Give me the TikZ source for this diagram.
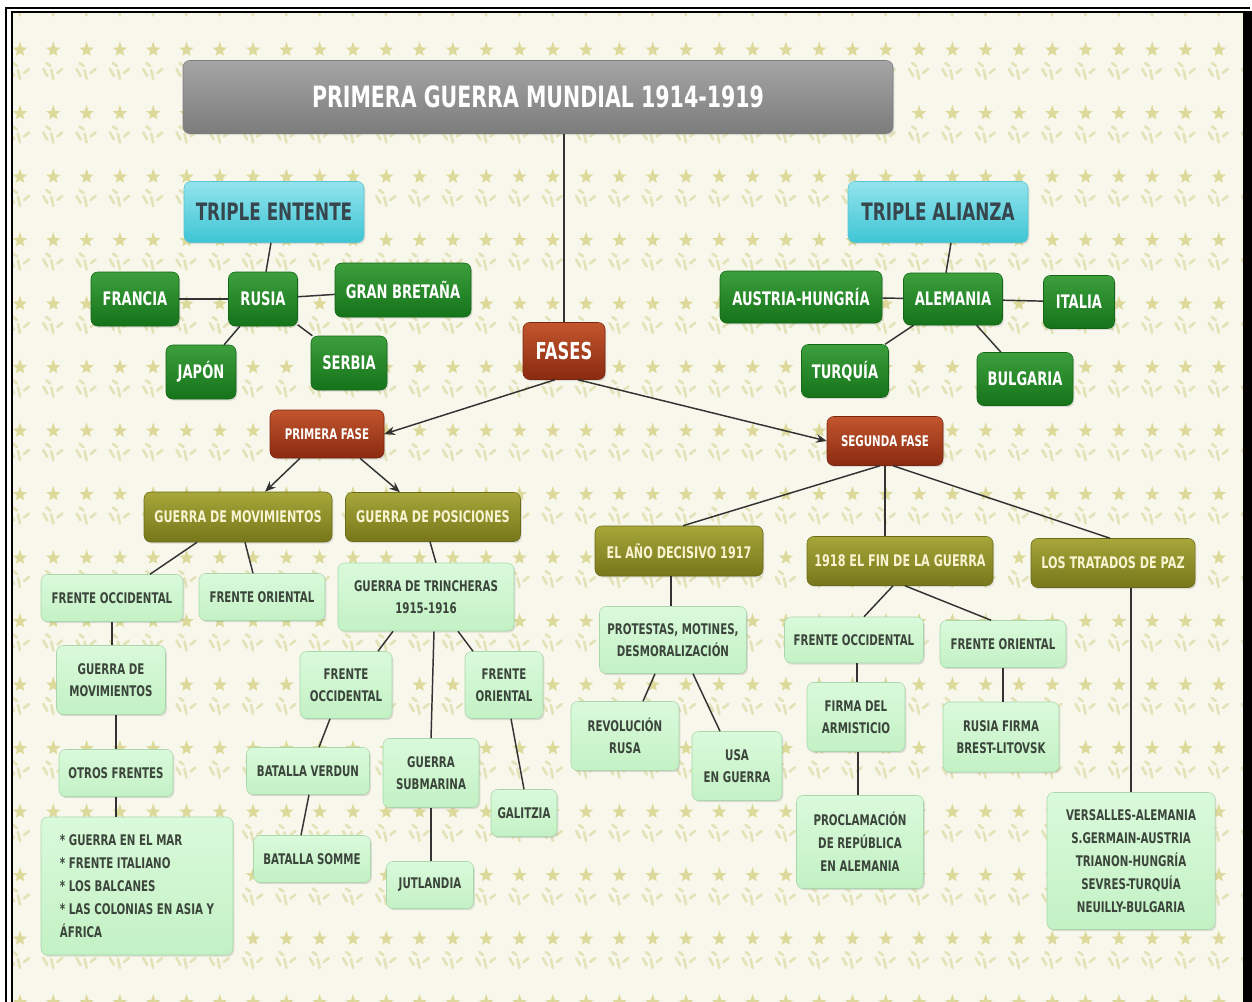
\documentclass[tikz,border=0pt]{standalone}
\usepackage{fontspec}
\newfontfamily\cmf{DejaVu Sans}[FakeStretch=0.7]
\usetikzlibrary{arrows.meta,shadows}
\definecolor{bgc}{HTML}{F8F7EC}
\definecolor{leafA}{HTML}{DCD99A}
\definecolor{leafB}{HTML}{E4E2B8}
\definecolor{lnc}{HTML}{333333}
\definecolor{grayT}{HTML}{A5A5A5}
\definecolor{grayB}{HTML}{7C7C7C}
\definecolor{cyanT}{HTML}{93E4EC}
\definecolor{cyanB}{HTML}{3EC5D5}
\definecolor{cyanD}{HTML}{5CC4D0}
\definecolor{cyanTx}{HTML}{37454D}
\definecolor{greenT}{HTML}{3C9F3C}
\definecolor{greenB}{HTML}{15731A}
\definecolor{greenD}{HTML}{126616}
\definecolor{redT}{HTML}{C2562E}
\definecolor{redB}{HTML}{8A2A10}
\definecolor{redD}{HTML}{7A2510}
\definecolor{oliveT}{HTML}{A7A73A}
\definecolor{oliveB}{HTML}{76761B}
\definecolor{oliveD}{HTML}{6A6A18}
\definecolor{oliveTx}{HTML}{F8F4D2}
\definecolor{lightT}{HTML}{DAFADB}
\definecolor{lightB}{HTML}{C3F1C4}
\definecolor{lightD}{HTML}{A9D6AA}
\definecolor{lightTx}{HTML}{3B453B}
\tikzset{
  base/.style={rectangle, rounded corners=5pt, inner sep=0pt, align=center,
    drop shadow={opacity=0.22, shadow xshift=1pt, shadow yshift=-1.3pt}},
  sz/.style 2 args={minimum width=#1, minimum height=#2},
  titlebox/.style={base, top color=grayT, bottom color=grayB, draw=grayB,
    text=white, font=\cmf\bfseries\fontsize{22}{26}\selectfont},
  cyanbox/.style={base, top color=cyanT, bottom color=cyanB, draw=cyanD,
    text=cyanTx, font=\cmf\bfseries\fontsize{18}{22}\selectfont},
  greenbox/.style={base, top color=greenT, bottom color=greenB, draw=greenD,
    text=white, font=\cmf\bfseries\fontsize{14}{17}\selectfont},
  redbox/.style={base, top color=redT, bottom color=redB, draw=redD,
    text=white, font=\cmf\bfseries\fontsize{11}{14}\selectfont},
  olivebox/.style={base, top color=oliveT, bottom color=oliveB, draw=oliveD,
    text=oliveTx, font=\cmf\bfseries\fontsize{12}{15}\selectfont},
  lightbox/.style={base, top color=lightT, bottom color=lightB, draw=lightD,
    text=lightTx, font=\cmf\bfseries\fontsize{11}{16.5}\selectfont},
  link/.style={draw=lnc, line width=1.1pt},
  arr/.style={link, -{Stealth[length=8pt,width=6.5pt]}},
}
\begin{document}
\begin{tikzpicture}[x=0.75pt,y=-0.75pt]
\useasboundingbox (0,0) rectangle (1252,1002);
\fill[white] (0,0) rectangle (1252,1002);
\fill[bgc] (13,13) rectangle (1243,1002);
% background leaf pattern
\begin{scope}
\clip (13,13) rectangle (1243,1002);
\foreach \i in {0,...,37}{
  \foreach \j in {0,...,16}{
    \pgfmathsetmacro\px{20+33.3*\i}
    \pgfmathsetmacro\py{-13.5+63.5*\j}
    \fill[leafA] (\px,\py) +(270:8.5) -- +(306:3.2) -- +(342:7.5) -- +(18:3.2) -- +(54:7) -- +(90:3.2) -- +(126:7) -- +(162:3.2) -- +(198:7.5) -- +(234:3.2) -- cycle;
    \draw[leafB, line width=2pt, line cap=round] (\px-10,\py+19) -- (\px-6,\py+26) (\px-2,\py+20) -- (\px,\py+29) (\px+4,\py+23) -- (\px+9,\py+19) (\px-7,\py+13) -- (\px-3,\py+16);
  }
}
\end{scope}
% frame
\draw[black, line width=2pt] (6,1002) -- (6,8) -- (1250,8);
\draw[black, line width=1.3pt] (12,1002) -- (12,12) -- (1245,12);
\fill[black] (1243,11) rectangle (1252,1002);

% nodes
\node[titlebox, sz={532.5pt}{54.75pt}] (title) at (538,97) {PRIMERA GUERRA MUNDIAL 1914-1919};
\node[cyanbox, sz={135pt}{45.75pt}] (tent) at (274,212) {TRIPLE ENTENTE};
\node[cyanbox, sz={135pt}{45.75pt}] (tali) at (938,212) {TRIPLE ALIANZA};

\node[greenbox, sz={66pt}{40.5pt}] (francia) at (135,299) {FRANCIA};
\node[greenbox, sz={51.75pt}{40.5pt}] (rusia) at (263,299) {RUSIA};
\node[greenbox, sz={102pt}{40.5pt}] (gb) at (403,290) {GRAN BRETAÑA};
\node[greenbox, sz={52.5pt}{40.5pt}] (japon) at (201,372) {JAPÓN};
\node[greenbox, sz={57pt}{40.5pt}] (serbia) at (349,363) {SERBIA};
\node[greenbox, sz={121.5pt}{39pt}] (ah) at (801,297) {AUSTRIA-HUNGRÍA};
\node[greenbox, sz={74.25pt}{39pt}] (alemania) at (953,299) {ALEMANIA};
\node[greenbox, sz={53.25pt}{39.75pt}] (italia) at (1079,302) {ITALIA};
\node[greenbox, sz={65.25pt}{39.75pt}] (turquia) at (845,371) {TURQUÍA};
\node[greenbox, sz={72pt}{39.75pt}] (bulgaria) at (1025,379) {BULGARIA};

\node[redbox, sz={61.5pt}{42.75pt}, font=\cmf\bfseries\fontsize{17.5}{20}\selectfont] (fases) at (564,351) {FASES};
\node[redbox, sz={85.5pt}{36pt}] (pf) at (327,434) {PRIMERA FASE};
\node[redbox, sz={87pt}{36.75pt}] (sf) at (885,441) {SEGUNDA FASE};

\node[olivebox, sz={141pt}{37.5pt}] (gm) at (238,517) {GUERRA DE MOVIMIENTOS};
\node[olivebox, sz={131.25pt}{36.75pt}] (gp) at (433,517) {GUERRA DE POSICIONES};
\node[olivebox, sz={126pt}{37.5pt}] (ano) at (679,551) {EL AÑO DECISIVO 1917};
\node[olivebox, sz={139.5pt}{36.75pt}] (fin) at (900,561) {1918 EL FIN DE LA GUERRA};
\node[olivebox, sz={123pt}{36.75pt}] (paz) at (1113,563) {LOS TRATADOS DE PAZ};

\node[lightbox, sz={106.5pt}{35.25pt}] (fo1) at (112,598) {FRENTE OCCIDENTAL};
\node[lightbox, sz={94.5pt}{35.25pt}] (fr1) at (262,597) {FRENTE ORIENTAL};
\node[lightbox, sz={132pt}{51pt}] (trin) at (426,597) {GUERRA DE TRINCHERAS\\1915-1916};
\node[lightbox, sz={81.75pt}{51.75pt}] (gm2) at (111,680) {GUERRA DE\\MOVIMIENTOS};
\node[lightbox, sz={85.5pt}{35.25pt}] (otros) at (116,773) {OTROS FRENTES};
\node[lightbox, sz={144pt}{103.5pt}, align=left, font=\cmf\bfseries\fontsize{11}{17.25}\selectfont] (lista) at (137,886) {* GUERRA EN EL MAR\\* FRENTE ITALIANO\\* LOS BALCANES\\* LAS COLONIAS EN ASIA Y\\ÁFRICA};
\node[lightbox, sz={69pt}{50.25pt}] (fo2) at (346,685) {FRENTE\\OCCIDENTAL};
\node[lightbox, sz={58.5pt}{50.25pt}] (fr2) at (504,685) {FRENTE\\ORIENTAL};
\node[lightbox, sz={92.25pt}{35.25pt}] (verdun) at (308,771) {BATALLA VERDUN};
\node[lightbox, sz={72pt}{51.75pt}] (sub) at (431,773) {GUERRA\\SUBMARINA};
\node[lightbox, sz={49.5pt}{35.25pt}] (gal) at (524,813) {GALITZIA};
\node[lightbox, sz={87.75pt}{35.25pt}] (somme) at (312,859) {BATALLA SOMME};
\node[lightbox, sz={65.25pt}{35.25pt}] (jut) at (430,885) {JUTLANDIA};

\node[lightbox, sz={110.25pt}{50.25pt}] (prot) at (673,640) {PROTESTAS, MOTINES,\\DESMORALIZACIÓN};
\node[lightbox, sz={81pt}{51.75pt}] (rev) at (625,736) {REVOLUCIÓN\\RUSA};
\node[lightbox, sz={67.5pt}{51.75pt}] (usa) at (737,766) {USA\\EN GUERRA};
\node[lightbox, sz={104.25pt}{34.5pt}] (fo3) at (854,640) {FRENTE OCCIDENTAL};
\node[lightbox, sz={73.5pt}{51.75pt}] (firma) at (856,717) {FIRMA DEL\\ARMISTICIO};
\node[lightbox, sz={95.25pt}{69.75pt}, font=\cmf\bfseries\fontsize{11}{17.25}\selectfont] (proc) at (860,842) {PROCLAMACIÓN\\DE REPÚBLICA\\EN ALEMANIA};
\node[lightbox, sz={94.5pt}{35.25pt}] (fr3) at (1003,644) {FRENTE ORIENTAL};
\node[lightbox, sz={87pt}{52.5pt}] (brest) at (1001,737) {RUSIA FIRMA\\BREST-LITOVSK};
\node[lightbox, sz={126pt}{102.75pt}, font=\cmf\bfseries\fontsize{11}{17.25}\selectfont] (trat) at (1131,861) {VERSALLES-ALEMANIA\\S.GERMAIN-AUSTRIA\\TRIANON-HUNGRÍA\\SEVRES-TURQUÍA\\NEUILLY-BULGARIA};

% connectors
\draw[link] (fases.north |- title.south) -- (fases.north);
\draw[link] ([xshift=-2.25pt]tent.south) -- ([xshift=2.25pt]rusia.north);
\draw[link] (francia) -- (rusia);
\draw[link] (rusia) -- (gb);
\draw[link] (rusia) -- (japon);
\draw[link] (rusia) -- (serbia);
\draw[link] ([xshift=9.75pt]tali.south) -- ([xshift=-5.25pt]alemania.north);
\draw[link] (ah) -- (alemania);
\draw[link] (alemania) -- (italia);
\draw[link] (alemania) -- (turquia);
\draw[link] (alemania) -- (bulgaria);

\draw[arr] ([xshift=-6.75pt]fases.south) -- (pf.east);
\draw[arr] ([xshift=10.5pt]fases.south) -- (sf.west);
\draw[arr] ([xshift=-20.25pt]pf.south) -- ([xshift=20.25pt]gm.north);
\draw[arr] ([xshift=24.75pt]pf.south) -- ([xshift=-24.75pt]gp.north);

\draw[link] ([xshift=-3.75pt]sf.south) -- ([xshift=3pt]ano.north);
\draw[link] (sf.south) -- (sf.south |- fin.north);
\draw[link] ([xshift=6pt]sf.south) -- ([xshift=-2.25pt]paz.north);

\draw[link] ([xshift=-30.75pt]gm.south) -- ([xshift=28.5pt]fo1.north);
\draw[link] ([xshift=5.25pt]gm.south) -- ([xshift=-6.75pt]fr1.north);
\draw[link] ([xshift=-2.25pt]gp.south) -- ([xshift=7.5pt]trin.north);
\draw[link] (fo1.south) -- (fo1.south |- gm2.north);
\draw[link] (otros.north |- gm2.south) -- (otros.north);
\draw[link] (otros.south) -- (otros.south |- lista.north);
\draw[link] ([xshift=-24.75pt]trin.south) -- ([xshift=24pt]fo2.north);
\draw[link] ([xshift=6pt]trin.south) -- (sub.north);
\draw[link] ([xshift=24pt]trin.south) -- ([xshift=-23.25pt]fr2.north);
\draw[link] ([xshift=-12pt]fo2.south) -- ([xshift=8.25pt]verdun.north);
\draw[link] ([xshift=0.75pt]verdun.south) -- ([xshift=-8.25pt]somme.north);
\draw[link] (sub.south) -- (sub.south |- jut.north);
\draw[link] ([xshift=5.25pt]fr2.south) -- (gal.north);

\draw[link] ([xshift=-6pt]ano.south) -- ([xshift=-1.5pt]prot.north);
\draw[link] ([xshift=-13.5pt]prot.south) -- ([xshift=13.5pt]rev.north);
\draw[link] ([xshift=15pt]prot.south) -- ([xshift=-12.75pt]usa.north);
\draw[link] ([xshift=-5.25pt]fin.south) -- ([xshift=7.5pt]fo3.north);
\draw[link] ([xshift=3.75pt]fin.south) -- ([xshift=-9pt]fr3.north);
\draw[link] ([xshift=2.25pt]fo3.south) -- ([xshift=0.75pt]firma.north);
\draw[link] ([xshift=1.5pt]firma.south) -- ([xshift=-1.5pt]proc.north);
\draw[link] (fr3.south) -- (fr3.south |- brest.north);
\draw[link] (trat.north |- paz.south) -- (trat.north);
\end{tikzpicture}
\end{document}
